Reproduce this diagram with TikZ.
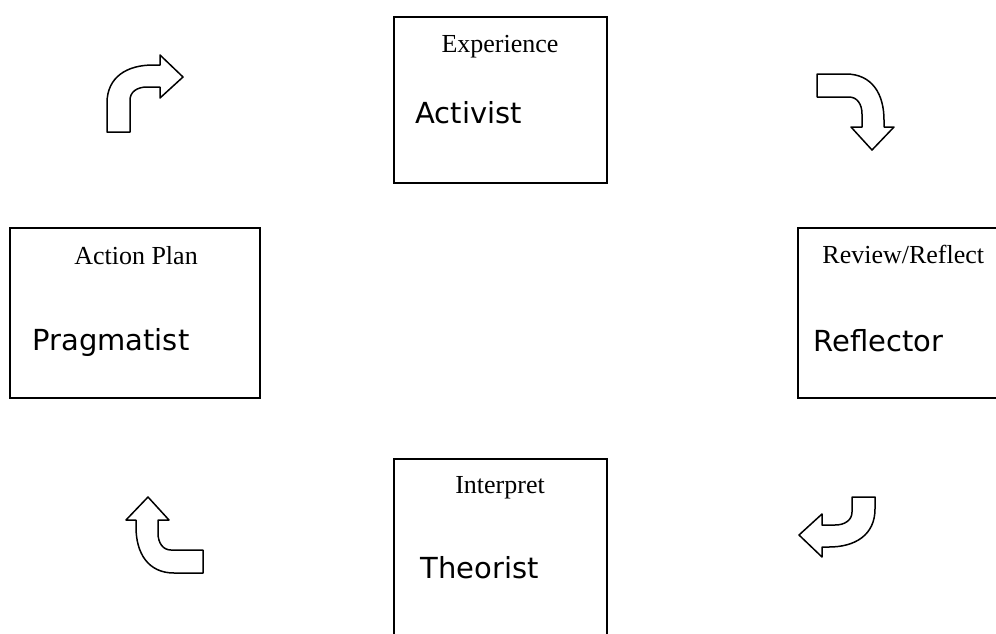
\documentclass[tikz,border=0pt]{standalone}
\usepackage{fontspec}
\setmainfont{Liberation Serif}
\newfontfamily\rolefont{DejaVu Sans}
\tikzset{
  box/.style={draw,line width=1pt,inner sep=0pt},
  head/.style={anchor=base,inner sep=0pt,font=\fontsize{13}{15}\selectfont},
  role/.style={anchor=base west,inner sep=0pt,font=\rolefont\fontsize{14.5}{17}\selectfont},
  turn/.style={draw,line width=0.75pt,line join=round,fill=white},
  pics/bend/.style={code={
    \draw[turn] (0,-#1) -- (0,0) .. controls (0,26) and (20,38) .. (46,38) -- (53,38)
      -- (53,48) -- (76,26) -- (53,5) -- (53,16) -- (40,16)
      .. controls (30,16) and (23,11) .. (23,3) -- (23,-#1) -- cycle;
  }},
  pics/bend/.default=29,
}
\begin{document}
\begin{tikzpicture}[x=0.5pt,y=0.5pt]
\clip (0,0) rectangle (996,-633);
% the four stages
\node[box,minimum width=106.5pt,minimum height=83pt] (exp) at (500.5,-100) {};
\node[box,minimum width=125pt,minimum height=85pt] (rev) at (923,-313) {};
\node[box,minimum width=106.5pt,minimum height=90.5pt] (int) at (500.5,-549.5) {};
\node[box,minimum width=125pt,minimum height=85pt] (act) at (135,-313) {};
\node[head] (exph) at (500,-52) {Experience};
\node[head,anchor=base west] (revh) at (822,-263) {Review/Reflect};
\node[head] (inth) at (500,-493) {Interpret};
\node[head] (acth) at (136,-264) {Action Plan};
\node[role] (expr) at (415,-123) {Activist};
\node[role] (revr) at (813,-351) {Reflector};
\node[role] (intr) at (420,-578) {Theorist};
\node[role] (actr) at (32,-350) {Pragmatist};
% turning arrows between them
\pic (t1) at (107,-103) {bend};
\pic[rotate=-90] (t2) at (846,-74) {bend};
\pic[rotate=180] (t3) at (875,-509) {bend=12};
\pic[rotate=90] (t4) at (174,-573) {bend};
\end{tikzpicture}
\end{document}
